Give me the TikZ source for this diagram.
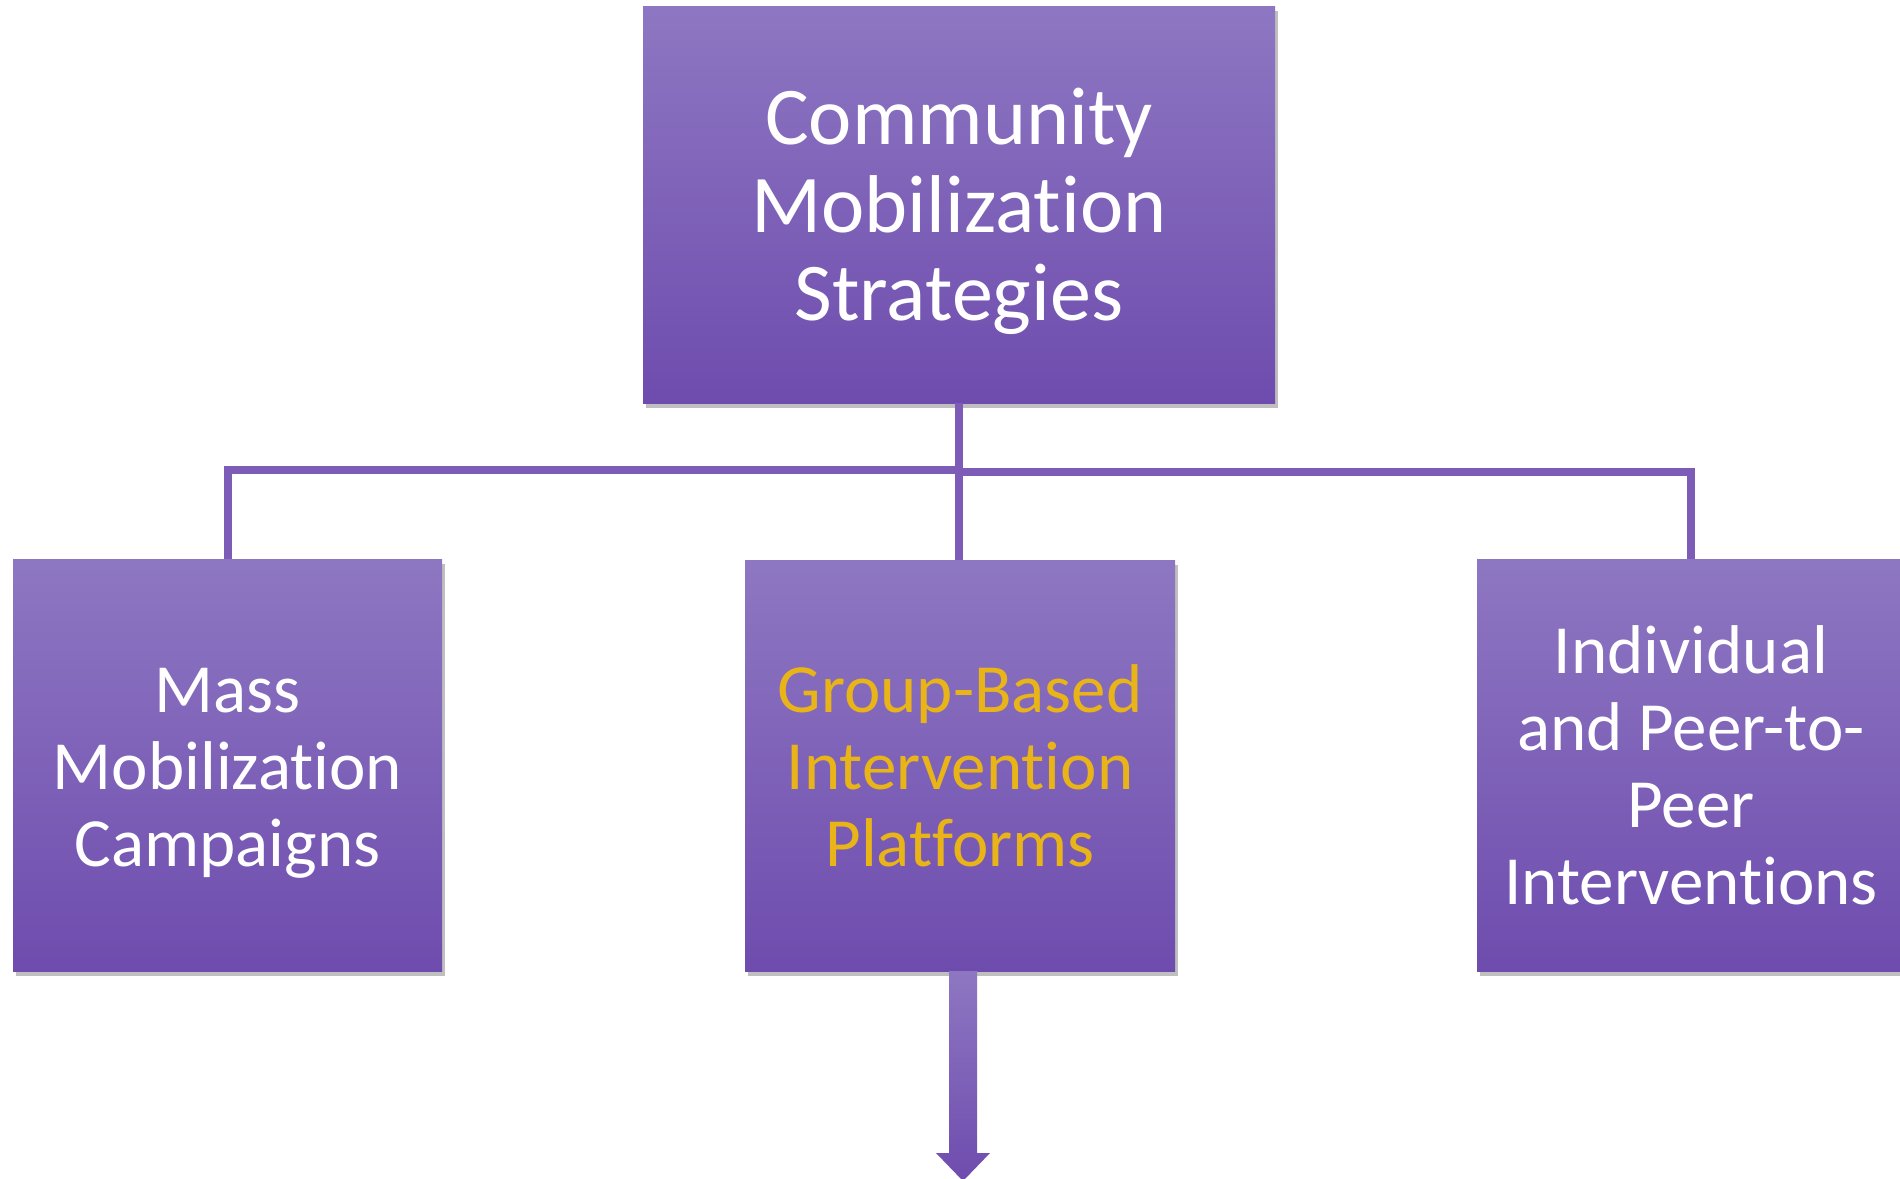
\documentclass[tikz,border=0pt]{standalone}
\usepackage{fontspec}
\setmainfont{Carlito}[Ligatures={NoCommon}]
\usetikzlibrary{shadows,calc}
\definecolor{boxtop}{RGB}{142,119,194}
\definecolor{boxbot}{RGB}{110,76,174}
\definecolor{connc}{RGB}{125,92,184}
\definecolor{goldtxt}{RGB}{232,180,24}
\tikzset{
  pbox/.style={rectangle, inner sep=0pt, top color=boxtop, bottom color=boxbot,
    drop shadow={shadow xshift=3pt, shadow yshift=-5pt, opacity=0.25, fill=black},
    align=center, text=white},
  bigtxt/.style={font=\fontsize{82}{88}\selectfont},
  smalltxt/.style={font=\fontsize{69}{77}\selectfont},
  conn/.style={draw=connc, line width=8pt},
}
\begin{document}
\begin{tikzpicture}[x=1pt,y=-1pt]
\clip (0,0) rectangle (1900,1178);
\fill[white] (0,0) rectangle (1900,1178);
\useasboundingbox (0,0) rectangle (1900,1178);

\node[pbox, bigtxt, minimum width=632pt, minimum height=397pt] (top) at (959,204.5)
  {\raisebox{-7pt}[\height][\depth]{\parbox{600pt}{\centering Community\\Mobilization\\Strategies}}};
\node[pbox, smalltxt, minimum width=429pt, minimum height=412pt] (left) at (227.5,765)
  {\raisebox{-8pt}[\height][\depth]{\parbox{420pt}{\centering Mass\\Mobilization\\Campaigns}}};
\node[pbox, smalltxt, minimum width=430pt, minimum height=411pt, text=goldtxt] (mid) at (960,765.5)
  {Group-Based\\Intervention\\Platforms};
\node[pbox, smalltxt, minimum width=428pt, minimum height=412pt] (right) at (1691,765)
  {Individual\\and Peer-to-\\Peer\\Interventions};

\coordinate (jl) at (959,469.5);
\coordinate (jr) at (959,472);
\draw[conn] (top.south) -- (top.south |- mid.north);
\draw[conn] (left.north) |- (jl);
\draw[conn] (right.north) |- (jr);

\coordinate (tip) at (963,1181);
\shade[top color=boxtop, bottom color=boxbot]
  ($(mid.south)+(-11,0)$) -- ($(mid.south)+(17,0)$) -- ($(tip)+(14,-28)$) --
  ($(tip)+(27,-28)$) -- (tip) -- ($(tip)+(-27,-28)$) -- ($(tip)+(-14,-28)$) -- cycle;
\end{tikzpicture}
\end{document}
